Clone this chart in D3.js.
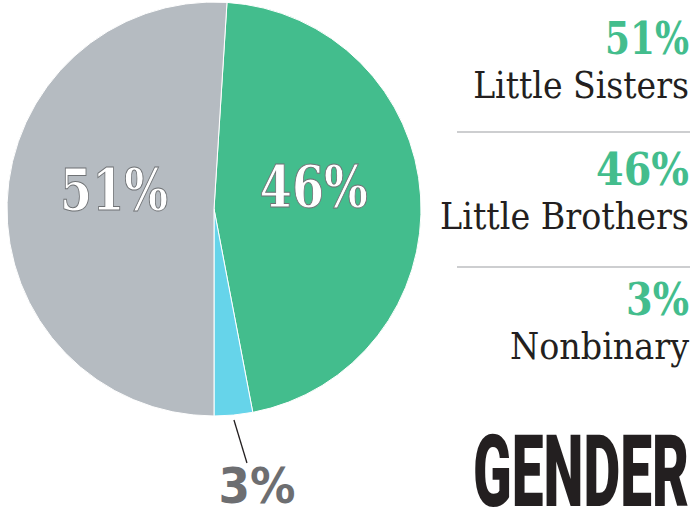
<!DOCTYPE html>
<html>
<head>
<meta charset="utf-8">
<script src="https://cdn.jsdelivr.net/npm/d3@7"></script>
<style>
  body { margin: 0; background: #fff; }
</style>
</head>
<body>
<svg id="chart" width="694" height="517"></svg>
<script>
// data
let categories = ["Little Brothers", "Nonbinary", "Little Sisters"];
let values = [46, 3, 51];
let legendOrder = ["Little Sisters", "Little Brothers", "Nonbinary"];
let title = "GENDER";

let colors = {"Little Brothers": "#43bd8d", "Nonbinary": "#66d4ea", "Little Sisters": "#b5bbc1"};

let svg = d3.select("#chart");
let cx = 214, cy = 209, radius = 207;

// squeeze a text horizontally to a given width (anchor end, at x/y)
function fitText(sel, x, y, width) {
    let wrap = sel.append("g").attr("transform", "translate(" + x + "," + y + ")");
    let inner = wrap.append("g");
    let t = inner.append("text").attr("text-anchor", "end");
    return {text: t, fit: function() {
        let w = t.node().getComputedTextLength();
        inner.attr("transform", "scale(" + (width / w) + ",1)");
    }};
}

let slices = categories.map((c, i) => ({name: c, value: values[i]}));

// grey/green edge sits a hair right of 12 o'clock
let start = 0.01 * 2 * Math.PI;
let pie = d3.pie()
    .sort(null)
    .value(d => d.value)
    .startAngle(start)
    .endAngle(start + 2 * Math.PI);

let arcs = pie(slices);
let arc = d3.arc().innerRadius(0).outerRadius(radius);
let labelArc = d3.arc().innerRadius(100).outerRadius(100);

let g = svg.append("g").attr("transform", "translate(" + cx + "," + cy + ")");

g.selectAll(".slice")
    .data(arcs)
    .enter()
    .append("path")
    .attr("class", "slice")
    .attr("d", arc)
    .attr("fill", d => colors[d.data.name])
    .attr("stroke", "#fff")
    .attr("stroke-width", 1);

// big labels inside the two large slices
g.selectAll(".inlabel")
    .data(arcs.filter(d => d.data.value > 10))
    .enter()
    .append("text")
    .attr("class", "inlabel")
    .attr("x", d => labelArc.centroid(d)[0])
    .attr("y", d => labelArc.centroid(d)[1] + 4)
    .attr("text-anchor", "middle")
    .attr("font-family", "DejaVu Serif")
    .attr("font-weight", "bold")
    .attr("font-size", 58)
    .attr("textLength", 108)
    .attr("lengthAdjust", "spacingAndGlyphs")
    .attr("fill", "#fff")
    .attr("stroke", "#6f7275")
    .attr("stroke-width", 1)
    .text(d => d.data.value + "%");

// small slice gets a leader line and an outside label
let small = arcs.find(d => d.data.value < 10);
let mid = (small.startAngle + small.endAngle) / 2;
let p1 = [212 * Math.sin(mid), -212 * Math.cos(mid)];
let p2 = [p1[0] + 13, p1[1] + 43];

g.append("line")
    .attr("x1", p1[0]).attr("y1", p1[1])
    .attr("x2", p2[0]).attr("y2", p2[1])
    .attr("stroke", "#231f20")
    .attr("stroke-width", 1.3);

g.append("text")
    .attr("x", p2[0] + 10)
    .attr("y", p2[1] + 40)
    .attr("text-anchor", "middle")
    .attr("font-family", "DejaVu Sans")
    .attr("font-weight", "bold")
    .attr("font-size", 49)
    .attr("textLength", 77)
    .attr("lengthAdjust", "spacingAndGlyphs")
    .attr("fill", "#6d6e71")
    .text(small.data.value + "%");

// legend on the right
let legendX = 689;
let rowTop = [54, 185, 315];
let numWidth = {"Little Sisters": 84, "Little Brothers": 93, "Nonbinary": 63};
let nameWidth = {"Little Sisters": 216, "Little Brothers": 249, "Nonbinary": 179};

legendOrder.forEach(function(name, i) {
    let num = fitText(svg, legendX, rowTop[i], numWidth[name]);
    num.text
        .attr("font-family", "DejaVu Serif")
        .attr("font-weight", "bold")
        .attr("font-size", 44)
        .attr("fill", colors["Little Brothers"])
        .text(values[categories.indexOf(name)] + "%");
    num.fit();

    let lab = fitText(svg, legendX, rowTop[i] + 44, nameWidth[name]);
    lab.text
        .attr("font-family", "DejaVu Serif")
        .attr("font-size", 38)
        .attr("fill", "#231f20")
        .text(name);
    lab.fit();
});

let sepY = [132, 267];
svg.selectAll(".sep")
    .data(sepY)
    .enter()
    .append("line")
    .attr("class", "sep")
    .attr("x1", 457).attr("x2", 690)
    .attr("y1", d => d).attr("y2", d => d)
    .attr("stroke", "#bcbec0")
    .attr("stroke-width", 1.5);

let head = fitText(svg, 689, 506, 216);
head.text
    .attr("font-family", "Roboto")
    .attr("font-weight", 900)
    .attr("font-size", 100)
    .attr("fill", "#231f20")
    .text(title);
head.fit();
</script>
</body>
</html>
